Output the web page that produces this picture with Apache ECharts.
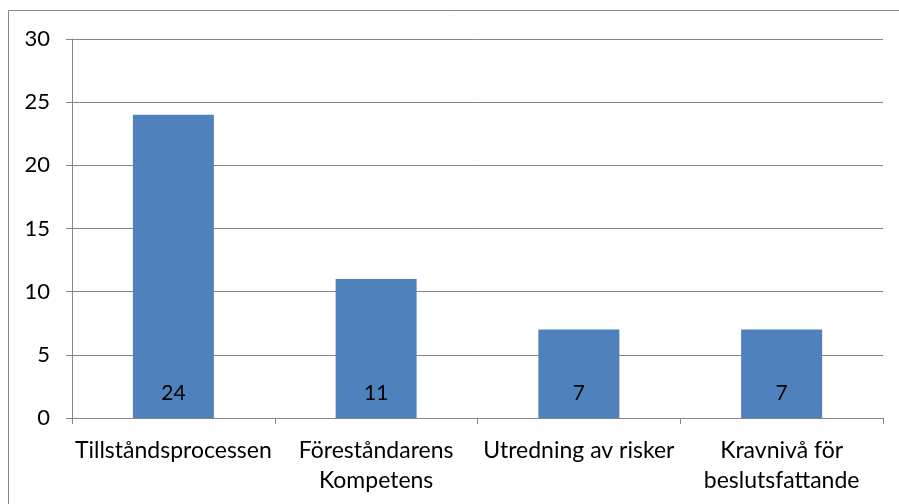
<!DOCTYPE html>
<html><head><meta charset="utf-8">
<script src="https://cdn.jsdelivr.net/npm/echarts@6/dist/echarts.min.js"></script>
<style>html,body{margin:0;padding:0;background:#fff}#c{width:899px;height:504px}</style>
</head><body><div id="c"></div>
<script>
const categories = ["Tillståndsprocessen", "Föreståndarens\nKompetens", "Utredning av risker", "Kravnivå för\nbeslutsfattande"];
const values = [24, 11, 7, 7];
const yTicks = [0, 5, 10, 15, 20, 25, 30];

const chart = echarts.init(document.getElementById('c'), null, {renderer: 'canvas'});
const font = 'Lato, "Open Sans", sans-serif';
chart.setOption({
  animation: false,
  graphic: [{type: 'rect', shape: {x: 8.5, y: 10.5, width: 1000, height: 1000}, style: {fill: null, stroke: '#868686', lineWidth: 1}, silent: true}],
  grid: {left: 72, right: 16, top: 39, bottom: 86},
  xAxis: {
    type: 'category', data: categories,
    axisLine: {lineStyle: {color: '#868686', width: 1}},
    axisTick: {show: true, length: 6, lineStyle: {color: '#868686'}},
    axisLabel: {color: '#000', fontFamily: font, fontSize: 23, lineHeight: 30, margin: 18, interval: 0}
  },
  yAxis: {
    type: 'value', min: yTicks[0], max: yTicks[yTicks.length - 1], interval: 5,
    axisLine: {show: true, lineStyle: {color: '#868686', width: 1}},
    axisTick: {show: true, length: 6, lineStyle: {color: '#868686'}},
    splitLine: {lineStyle: {color: '#868686', width: 1}},
    axisLabel: {color: '#000', fontFamily: font, fontSize: 22, margin: 22}
  },
  series: [{
    type: 'bar', data: values, barWidth: 81,
    itemStyle: {color: '#4F81BD'},
    label: {show: true, position: 'insideBottom', distance: 14, color: '#000', fontFamily: font, fontSize: 21}
  }]
});
</script></body></html>
